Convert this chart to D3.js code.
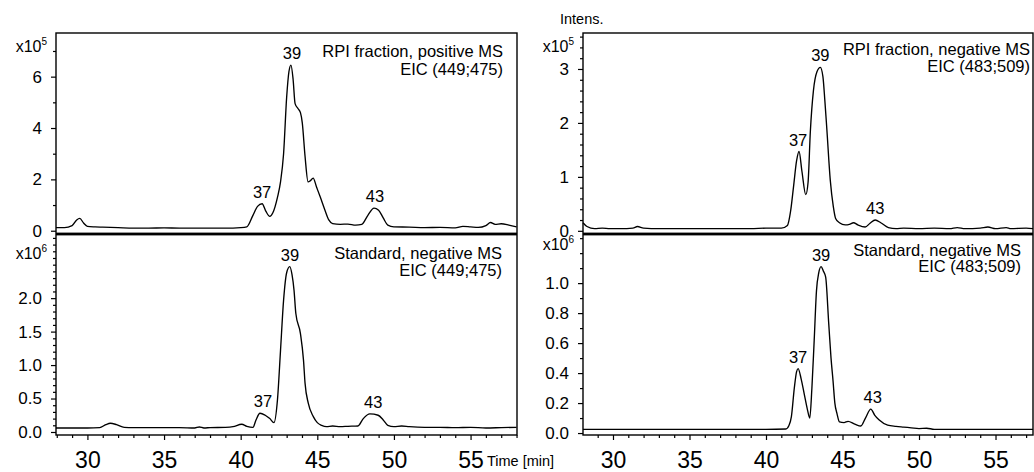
<!DOCTYPE html>
<html>
<head>
<meta charset="utf-8">
<script src="https://cdn.jsdelivr.net/npm/d3@7"></script>
<style>
  body { margin: 0; background: #fff; }
  svg { display: block; font-family: "Liberation Sans", Arial, sans-serif; }
  .frame { fill: none; stroke: #000; stroke-width: 1.4; }
  .trace { fill: none; stroke: #000; stroke-width: 1.35; stroke-linejoin: round; }
  .axis path { display: none; }
  .axis line { stroke: #000; stroke-width: 1.2; }
  .axis text { fill: #000; }
</style>
</head>
<body>
<script>
// retention time (min) and intensity
const rpiPosTime = [27.95, 28.5, 29.0, 29.3, 29.5, 29.75, 30.0, 30.5, 31.0, 32.0, 33.0, 34.0, 35.0, 36.0, 37.0, 38.0, 39.0, 40.0, 40.4, 40.8, 41.1, 41.4, 41.65, 41.9, 42.1, 42.4, 42.6, 42.8, 43.0, 43.15, 43.28, 43.42, 43.55, 43.75, 43.9, 44.02, 44.2, 44.4, 44.55, 44.73, 44.95, 45.2, 45.5, 45.75, 46.0, 46.5, 47.0, 47.5, 47.9, 48.3, 48.7, 49.0, 49.3, 49.6, 50.0, 51.0, 52.0, 53.0, 54.0, 54.5, 55.0, 55.5, 56.0, 56.3, 56.6, 57.0, 57.5, 58.0];
const rpiPosInt = [0.12, 0.12, 0.2, 0.42, 0.48, 0.3, 0.17, 0.15, 0.14, 0.12, 0.1, 0.1, 0.11, 0.1, 0.1, 0.1, 0.1, 0.12, 0.15, 0.6, 0.95, 1.05, 0.75, 0.56, 0.7, 1.3, 1.9, 3.0, 5.2, 6.2, 6.45, 5.9, 4.95, 4.75, 4.6, 4.2, 2.9, 1.9, 1.95, 2.05, 1.7, 1.3, 0.8, 0.42, 0.28, 0.25, 0.26, 0.22, 0.25, 0.6, 0.88, 0.8, 0.5, 0.22, 0.15, 0.14, 0.12, 0.13, 0.11, 0.17, 0.15, 0.13, 0.2, 0.32, 0.25, 0.27, 0.22, 0.15];

const rpiNegTime = [28.04, 28.3, 28.8, 29.3, 29.8, 30.5, 31.3, 31.6, 32.0, 33.0, 35.0, 37.0, 39.0, 40.0, 41.0, 41.4, 41.6, 41.8, 42.0, 42.16, 42.35, 42.6, 42.75, 42.9, 43.1, 43.33, 43.55, 43.72, 43.85, 43.98, 44.2, 44.4, 44.55, 44.8, 45.18, 45.45, 45.72, 46.0, 46.48, 46.8, 47.14, 47.5, 48.0, 48.5, 49.0, 50.0, 51.0, 52.0, 52.5, 53.0, 54.0, 54.5, 55.0, 55.7, 56.0, 57.0, 57.45];
const rpiNegInt = [0.15, 0.08, 0.04, 0.05, 0.04, 0.04, 0.05, 0.08, 0.05, 0.04, 0.04, 0.04, 0.04, 0.05, 0.05, 0.1, 0.35, 0.82, 1.3, 1.47, 1.1, 0.67, 0.9, 1.85, 2.6, 2.95, 3.03, 2.86, 2.4, 1.87, 0.94, 0.45, 0.23, 0.15, 0.11, 0.12, 0.15, 0.11, 0.07, 0.14, 0.2, 0.15, 0.06, 0.04, 0.05, 0.04, 0.05, 0.04, 0.06, 0.04, 0.05, 0.07, 0.04, 0.06, 0.04, 0.05, 0.04];

const stdPosTime = [27.95, 29.0, 30.0, 30.8, 31.2, 31.5, 31.9, 32.4, 33.0, 34.0, 35.0, 36.0, 37.0, 37.3, 37.6, 38.0, 39.0, 39.5, 40.07, 40.4, 40.8, 41.0, 41.26, 41.6, 41.9, 42.17, 42.4, 42.6, 42.8, 43.0, 43.2, 43.35, 43.48, 43.6, 43.9, 44.1, 44.2, 44.41, 44.74, 45.0, 45.28, 45.6, 46.0, 46.5, 47.0, 47.65, 48.0, 48.43, 48.97, 49.3, 49.6, 50.0, 50.5, 51.0, 52.0, 53.0, 54.0, 55.0, 56.0, 57.0, 58.0];
const stdPosInt = [0.06, 0.06, 0.06, 0.065, 0.11, 0.13, 0.11, 0.07, 0.065, 0.065, 0.065, 0.065, 0.06, 0.075, 0.06, 0.065, 0.07, 0.08, 0.115, 0.085, 0.07, 0.18, 0.28, 0.25, 0.2, 0.14, 0.48, 1.22, 1.97, 2.38, 2.47, 2.35, 2.12, 1.77, 1.47, 1.07, 0.73, 0.43, 0.23, 0.14, 0.1, 0.08, 0.09, 0.08, 0.085, 0.09, 0.2, 0.27, 0.25, 0.18, 0.1, 0.08, 0.09, 0.08, 0.07, 0.07, 0.065, 0.07, 0.06, 0.065, 0.07];

const stdNegTime = [28.04, 30.0, 35.0, 40.0, 41.3, 41.5, 41.66, 41.85, 42.0, 42.1, 42.3, 42.5, 42.7, 42.86, 43.0, 43.15, 43.3, 43.45, 43.6, 43.75, 43.9, 44.1, 44.25, 44.38, 44.5, 44.64, 44.8, 45.1, 45.36, 45.8, 46.2, 46.5, 46.85, 47.1, 47.4, 47.95, 48.5, 49.0, 49.5, 50.0, 50.5, 51.0, 55.0, 57.45];
const stdNegInt = [0.025, 0.025, 0.025, 0.025, 0.027, 0.05, 0.11, 0.3, 0.41, 0.43, 0.36, 0.26, 0.16, 0.1, 0.3, 0.62, 0.95, 1.07, 1.11, 1.08, 1.04, 0.73, 0.5, 0.35, 0.2, 0.13, 0.075, 0.07, 0.078, 0.06, 0.047, 0.1, 0.16, 0.12, 0.087, 0.053, 0.045, 0.04, 0.035, 0.03, 0.032, 0.025, 0.025, 0.025];

// peak annotations: compound number, retention time, peak height
const peakNames = ["37", "39", "43"];
const rpiPosPeaks = [[41.4, 1.05], [43.35, 6.45], [48.76, 0.88]];
const rpiNegPeaks = [[42.1, 1.47], [43.55, 3.03], [47.14, 0.2]];
const stdPosPeaks = [[41.45, 0.28], [43.22, 2.47], [48.65, 0.27]];
const stdNegPeaks = [[42.1, 0.43], [43.6, 1.11], [46.97, 0.16]];

const xTicks = [30, 35, 40, 45, 50, 55];

const W = 1034, H = 472;
const svg = d3.select("body").append("svg").attr("width", W).attr("height", H);

const leftX = d3.scaleLinear().domain([27.95, 58.03]).range([56, 517]);
const rightX = d3.scaleLinear().domain([28.04, 57.45]).range([583, 1033]);

const panels = [
  { x: leftX, y: d3.scaleLinear().domain([-0.1, 7.7]).range([233.3, 33]),
    t: rpiPosTime, v: rpiPosInt, peaks: rpiPosPeaks, major: 2, minor: 1, maxLabel: 6, fmt: "d", exp: "5",
    title: ["RPI fraction, positive MS", "EIC (449;475)"], tx: 503, ty: [57, 75], expY: 52 },
  { x: leftX, y: d3.scaleLinear().domain([-0.045, 2.948]).range([435, 234.7]),
    t: stdPosTime, v: stdPosInt, peaks: stdPosPeaks, major: 0.5, minor: 0.1, maxLabel: 2, fmt: ".1f", exp: "6",
    title: ["Standard, negative MS", "EIC (449;475)"], tx: 502, ty: [259, 276], expY: 259, bottom: true },
  { x: rightX, y: d3.scaleLinear().domain([-0.046, 3.667]).range([233.3, 33]),
    t: rpiNegTime, v: rpiNegInt, peaks: rpiNegPeaks, major: 1, minor: 0.2, maxLabel: 3, fmt: "d", exp: "5",
    title: ["RPI fraction, negative MS", "EIC (483;509)"], tx: 1030, ty: [55, 72], expY: 52 },
  { x: rightX, y: d3.scaleLinear().domain([-0.013, 1.323]).range([435, 234.7]),
    t: stdNegTime, v: stdNegInt, peaks: stdNegPeaks, major: 0.2, minor: 0.1, maxLabel: 1, fmt: ".1f", exp: "6",
    title: ["Standard, negative MS", "EIC (483;509)"], tx: 1021, ty: [256, 272], expY: 250, bottom: true }
];

panels.forEach(p => {
  const [x0, x1] = p.x.range();
  const [yb, yt] = p.y.range();
  const g = svg.append("g");

  const top = p.y.domain()[1];
  const majors = d3.range(0, p.maxLabel + 1e-9, p.major);
  const minors = d3.range(0, top + 1e-9, p.minor).filter(v => v > p.maxLabel + 1e-9 ||
    Math.abs(v / p.major - Math.round(v / p.major)) > 1e-6);

  g.append("g").attr("class", "axis")
    .attr("transform", `translate(${x0},0)`)
    .call(d3.axisLeft(p.y).tickValues(minors).tickSize(3).tickFormat(""));
  g.append("g").attr("class", "axis")
    .attr("transform", `translate(${x0},0)`)
    .style("font-size", "17px")
    .call(d3.axisLeft(p.y).tickValues(majors).tickSize(5).tickPadding(9).tickFormat(d3.format(p.fmt)));

  g.append("text")
    .attr("x", x0 - 9).attr("y", p.expY)
    .attr("text-anchor", "end")
    .style("font-size", "16px")
    .text("x10")
    .append("tspan").attr("dy", -7).style("font-size", "10px").text(p.exp);

  if (p.bottom) {
    const xMinor = d3.range(Math.ceil(p.x.domain()[0]), p.x.domain()[1], 1).filter(d => d % 5 !== 0);
    g.append("g").attr("class", "axis")
      .attr("transform", `translate(0,${yb})`)
      .call(d3.axisBottom(p.x).tickValues(xMinor).tickSize(3).tickFormat(""));
    g.append("g").attr("class", "axis")
      .attr("transform", `translate(0,${yb})`)
      .style("font-size", "23px")
      .call(d3.axisBottom(p.x).tickValues(xTicks).tickSize(5).tickPadding(12));
  }

  const line = d3.line()
    .x((d, i) => p.x(p.t[i]))
    .y(d => p.y(d))
    .curve(d3.curveMonotoneX);
  g.append("path").attr("class", "trace").attr("d", line(p.v));

  g.append("rect").attr("class", "frame")
    .attr("x", x0).attr("y", yt).attr("width", x1 - x0).attr("height", yb - yt);

  g.selectAll(".peak").data(p.peaks).join("text")
    .attr("class", "peak")
    .attr("x", d => p.x(d[0]))
    .attr("y", d => p.y(d[1]) - 6)
    .attr("text-anchor", "middle")
    .style("font-size", "16.5px")
    .text((d, i) => peakNames[i]);

  g.selectAll(".title").data(p.title).join("text")
    .attr("class", "title")
    .attr("x", p.tx)
    .attr("y", (d, i) => p.ty[i])
    .attr("text-anchor", "end")
    .style("font-size", "16.5px")
    .text(d => d);
});

svg.append("text").attr("x", 560).attr("y", 24).style("font-size", "14.5px").text("Intens.");
svg.append("text").attr("x", 487).attr("y", 466).style("font-size", "14.5px").text("Time [min]");
</script>
</body>
</html>
